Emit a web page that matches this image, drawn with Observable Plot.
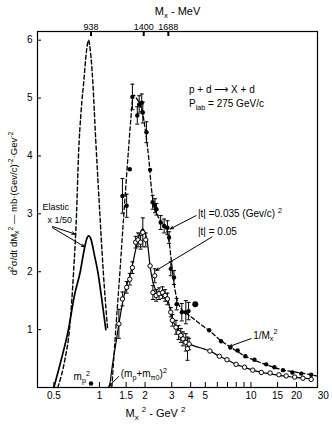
<!DOCTYPE html>
<html><head><meta charset="utf-8">
<script src="https://cdn.jsdelivr.net/npm/d3@7"></script>
<script src="https://cdn.jsdelivr.net/npm/@observablehq/plot@0.6"></script>
<style>
html,body{margin:0;padding:0;background:#fff;}
#chart svg{display:block;}
</style>
</head><body><div id="chart"></div>
<script>
// ---- tick labels ----
const xTickValues = [0.5, 1, 1.5, 2, 3, 4, 5, 6, 7, 8, 9, 10, 15, 20];
const xTickLabels = [0.5, 1, 1.5, 2, 3, 4, 5, 10, 15, 20, 30];
const yTickValues = [1, 2, 3, 4, 5, 6];
const topTickMeV = [938, 1400, 1688];

// ---- elastic peak (x 1/50) ----
const elastic035X = [0.531, 0.593, 0.634, 0.675, 0.706, 0.727, 0.758, 0.789, 0.820, 0.848, 0.872, 0.903, 0.944, 0.996, 1.060, 1.133];
const elastic035Y = [0.00, 0.50, 1.00, 2.00, 3.00, 4.00, 4.80, 5.30, 5.80, 6.00, 5.80, 5.30, 4.30, 3.20, 2.00, 1.00];
const elastic05X = [0.500, 0.562, 0.624, 0.685, 0.747, 0.789, 0.820, 0.848, 0.882, 0.924, 0.975, 1.039, 1.102];
const elastic05Y = [0.00, 0.50, 1.00, 1.60, 2.00, 2.35, 2.55, 2.62, 2.55, 2.30, 2.00, 1.50, 1.00];

// ---- guide curves through the inelastic data ----
const curve035X = [1.207, 1.281, 1.365, 1.449, 1.544, 1.607, 1.650, 1.692, 1.754, 1.839, 1.922, 2.021, 2.117, 2.201, 2.285, 2.410, 2.578, 2.767, 2.872, 2.978, 3.084, 3.231, 3.465, 3.791, 4.226, 4.769, 5.314, 6.41, 7.507, 9.162, 10.82, 13.05, 16.41, 19.78, 24.30, 27.0];
const curve035Y = [0.00, 1.00, 2.00, 3.00, 4.00, 4.60, 4.95, 5.05, 5.00, 4.90, 4.75, 4.40, 3.95, 3.45, 3.15, 2.98, 2.85, 2.72, 2.55, 2.20, 1.85, 1.55, 1.36, 1.27, 1.18, 1.07, 0.98, 0.80, 0.68, 0.54, 0.46, 0.38, 0.30, 0.265, 0.225, 0.20];
const curve05X = [1.165, 1.228, 1.291, 1.344, 1.418, 1.491, 1.607, 1.692, 1.777, 1.860, 1.933, 2.011, 2.075, 2.159, 2.285, 2.462, 2.662, 2.809, 2.925, 3.031, 3.241, 3.497, 3.897, 4.551, 5.358, 6.189, 6.957, 7.948, 9.053, 10.27, 11.71, 13.38, 15.29, 17.08, 19.44, 22.04, 24.98, 25.7];
const curve05Y = [0.00, 0.45, 0.80, 1.10, 1.45, 1.71, 1.98, 2.25, 2.50, 2.68, 2.74, 2.65, 2.50, 2.10, 1.76, 1.62, 1.58, 1.53, 1.36, 1.19, 1.02, 0.88, 0.76, 0.69, 0.63, 0.54, 0.48, 0.40, 0.35, 0.30, 0.26, 0.235, 0.21, 0.195, 0.175, 0.16, 0.145, 0.135];

// ---- |t| = 0.035 (filled points) ----
const pts035X = [1.418, 1.512, 1.586, 1.650, 1.777, 1.829, 1.902, 1.933, 2.042, 2.159, 2.243, 2.326, 2.379, 2.536, 2.672, 2.809, 2.882, 2.957, 3.105, 3.231, 3.497, 3.717, 3.876, 5.303, 6.35, 7.309, 8.168, 9.184, 10.55, 12.60, 14.28, 16.29, 18.77, 21.47, 24.98];
const pts035Y = [3.31, 3.14, 3.77, 5.02, 4.70, 4.89, 4.92, 4.75, 4.41, 3.76, 3.20, 3.14, 3.08, 2.85, 2.79, 2.76, 2.59, 2.05, 1.90, 1.44, 1.30, 1.30, 1.32, 0.99, 0.80, 0.69, 0.64, 0.54, 0.48, 0.40, 0.35, 0.30, 0.26, 0.24, 0.22];
const pts035Err = [0.30, 0.20, 0, 0.22, 0.15, 0.15, 0.15, 0.18, 0.18, 0, 0.12, 0.12, 0.10, 0.12, 0.12, 0.12, 0.10, 0.12, 0.12, 0.10, 0.15, 0.20, 0.15, 0, 0, 0, 0, 0, 0, 0, 0, 0, 0, 0, 0];
const isolatedX = [4.29];
const isolatedY = [1.44];

// ---- |t| = 0.05 (open points) ----
const pts05X = [1.344, 1.418, 1.512, 1.586, 1.650, 1.733, 1.798, 1.870, 1.933, 2.021, 2.159, 2.253, 2.316, 2.368, 2.473, 2.609, 2.714, 2.809, 2.957, 3.031, 3.199, 3.327, 3.444, 3.561, 3.717, 3.812, 3.908, 5.358, 6.189, 6.946, 7.980, 9.074, 10.28, 11.71, 13.38, 15.29, 17.08, 19.44, 22.04, 24.98];
const pts05Y = [1.10, 1.53, 1.73, 1.87, 2.07, 2.51, 2.55, 2.51, 2.68, 2.55, 2.10, 1.64, 1.93, 1.59, 1.62, 1.64, 1.59, 1.53, 1.30, 1.16, 1.04, 0.95, 0.90, 0.84, 0.78, 0.67, 0.75, 0.63, 0.54, 0.48, 0.40, 0.35, 0.30, 0.26, 0.25, 0.22, 0.20, 0.18, 0.16, 0.14];
const pts05Err = [0.25, 0.12, 0.10, 0.10, 0.10, 0.10, 0.12, 0.12, 0.25, 0.12, 0, 0.12, 0.12, 0.10, 0.10, 0.10, 0.10, 0.10, 0.08, 0.10, 0.12, 0.12, 0.12, 0.12, 0.15, 0.20, 0.10, 0, 0, 0, 0, 0, 0, 0, 0, 0, 0, 0, 0, 0];

// ---- marker and texts ----
const mpSquared = [0.880];
const titleTop = "M_{x} - MeV";
const titleBottom = "M_{x} ^{2} - GeV ^{2}";
const titleY = "d^{2}σ/dt dM_{x}^{2} — mb·(Gev/c)^{-2}·Gev^{-2}";
const labelTexts = ["Elastic", "x 1/50", "p + d ⟶ X + d", "P_{lab} = 275 GeV/c", "|t| =0.035 (Gev/c) ^{2}", "|t| = 0.05", "1/M_{x}^{2}", "m_{p}^{2}", "(m_{p}+m_{π0})^{2}"];
const labelX = [0.421, 0.454, 3.90, 3.90, 4.47, 4.47, 10.34, 0.675, 1.382];
const labelY = [3.11, 2.89, 5.14, 4.90, 3.00, 2.69, 0.90, 0.19, 0.24];
const arrowFromX = [0.490, 0.490, 4.35, 5.53, 10.03, 1.340];
const arrowFromY = [2.78, 2.76, 2.97, 2.60, 0.845, 0.19];
const arrowToX = [0.690, 0.798, 2.93, 2.36, 7.17, 1.151];
const arrowToY = [2.65, 2.43, 2.74, 2.02, 0.707, 0.02];

// ---- tables built from the arrays ----
const zip = (X, Y) => X.map((x, i) => ({x, y: Y[i]}));
const withErr = (X, Y, E) => X.map((x, i) => ({x, y: Y[i], e: E[i]}));
const f035 = withErr(pts035X, pts035Y, pts035Err);
const o05 = withErr(pts05X, pts05Y, pts05Err);
const bars035 = f035.filter(d => d.e > 0);
const bars05 = o05.filter(d => d.e > 0);
const labels = labelTexts.map((t, i) => ({t, x: labelX[i], y: labelY[i], fs: i < 2 ? 9 : 10}));
const arrows = arrowFromX.map((x1, i) => ({x1, y1: arrowFromY[i], x2: arrowToX[i], y2: arrowToY[i]}));

const cap = {draw(ctx, size) { const w = Math.sqrt(size / Math.PI); ctx.moveTo(-w, 0); ctx.lineTo(w, 0); }};
const dash = "4,2.6";

const chart = Plot.plot({
  width: 332, height: 426,
  marginLeft: 37, marginRight: 15, marginTop: 31, marginBottom: 39,
  style: {fontFamily: "'Liberation Sans', Arial, sans-serif", fontSize: "10px", background: "white", color: "black", overflow: "visible"},
  x: {type: "log", domain: [0.39, 27.5]},
  y: {domain: [0, 6.15]},
  marks: [
    Plot.frame({stroke: "black", strokeWidth: 1.2}),
    // bottom axis: inward ticks, labels
    Plot.axisX({ticks: xTickValues, tickSize: -5, fill: "none", label: null}),
    Plot.axisX({ticks: xTickLabels, tickSize: 0, tickPadding: 4, tickFormat: d => String(d), label: null, fontSize: 10}),
    // top axis in MeV (positions are M^2 in GeV^2)
    Plot.axisX({anchor: "top", ticks: topTickMeV.map(m => (m / 1000) ** 2), tickSize: -4, strokeWidth: 2, fill: "none", label: null}),
    Plot.text(topTickMeV, {x: m => (m / 1000) ** 2, frameAnchor: "top", dy: -8, text: m => String(m), fontSize: 9, letterSpacing: "-0.3px"}),
    // left axis
    Plot.axisY({ticks: yTickValues, tickSize: -4, fill: "none", label: null}),
    Plot.axisY({ticks: yTickValues, tickSize: 0, tickPadding: 5, tickFormat: d => String(d), label: null}),
    // titles
    Plot.text([titleTop], {frameAnchor: "top", dy: -24, fontSize: 11, text: d => d}),
    Plot.text([titleBottom], {frameAnchor: "bottom", dy: 29, dx: -22, fontSize: 11, text: d => d}),
    Plot.text([titleY], {frameAnchor: "left", textAnchor: "middle", rotate: -90, dx: -24, dy: -6, fontSize: 9.5, text: d => d}),
    // curves
    Plot.line(zip(elastic035X, elastic035Y), {x: "x", y: "y", stroke: "black", strokeWidth: 1.4, strokeDasharray: dash, curve: "monotone-x"}),
    Plot.line(zip(elastic05X, elastic05Y), {x: "x", y: "y", stroke: "black", strokeWidth: 1.7, curve: "monotone-x"}),
    Plot.line(zip(curve035X, curve035Y), {x: "x", y: "y", stroke: "black", strokeWidth: 1.3, strokeDasharray: dash, curve: "monotone-x"}),
    Plot.line(zip(curve05X, curve05Y), {x: "x", y: "y", stroke: "black", strokeWidth: 1.2, curve: "monotone-x"}),
    // error bars
    Plot.ruleX(bars035, {x: "x", y1: d => d.y - d.e, y2: d => d.y + d.e, stroke: "black", strokeWidth: 1}),
    Plot.dot(bars035, {x: "x", y: d => d.y + d.e, symbol: cap, r: 2, stroke: "black", fill: "none", strokeWidth: 1}),
    Plot.dot(bars035, {x: "x", y: d => d.y - d.e, symbol: cap, r: 2, stroke: "black", fill: "none", strokeWidth: 1}),
    Plot.ruleX(bars05, {x: "x", y1: d => d.y - d.e, y2: d => d.y + d.e, stroke: "black", strokeWidth: 1}),
    Plot.dot(bars05, {x: "x", y: d => d.y + d.e, symbol: cap, r: 2, stroke: "black", fill: "none", strokeWidth: 1}),
    Plot.dot(bars05, {x: "x", y: d => d.y - d.e, symbol: cap, r: 2, stroke: "black", fill: "none", strokeWidth: 1}),
    // points
    Plot.dot(f035, {x: "x", y: "y", r: 2.2, fill: "black", stroke: "none"}),
    Plot.dot(zip(isolatedX, isolatedY), {x: "x", y: "y", r: 3, fill: "black", stroke: "none"}),
    Plot.dot(o05, {x: "x", y: "y", r: 2.2, fill: "white", stroke: "black", strokeWidth: 1}),
    Plot.dot(mpSquared, {x: d => d, y: 0.07, r: 2.2, fill: "black", stroke: "none"}),
    // annotations
    Plot.arrow(arrows, {x1: "x1", y1: "y1", x2: "x2", y2: "y2", stroke: "black", strokeWidth: 1, headLength: 5, headAngle: 45}),
    Plot.text(labels.filter(d => d.fs === 9), {x: "x", y: "y", text: "t", textAnchor: "start", fontSize: 9}),
    Plot.text(labels.filter(d => d.fs === 10), {x: "x", y: "y", text: "t", textAnchor: "start", fontSize: 10})
  ]
});

document.getElementById("chart").appendChild(chart);

// render _{..} and ^{..} as sub/superscript tspans
(function richText(svg) {
  const NS = "http://www.w3.org/2000/svg";
  svg.querySelectorAll("text").forEach(t => {
    const s = t.textContent;
    if (!/[_^]\{/.test(s)) return;
    const fs = parseFloat(getComputedStyle(t).fontSize) || 10;
    t.textContent = "";
    let cur = 0;
    for (const p of s.split(/([_^]\{[^}]*\})/)) {
      if (!p) continue;
      let txt = p, target = 0, small = false;
      if (p.startsWith("_{")) { txt = p.slice(2, -1); target = 0.28 * fs; small = true; }
      else if (p.startsWith("^{")) { txt = p.slice(2, -1); target = -0.42 * fs; small = true; }
      const ts = document.createElementNS(NS, "tspan");
      const d = target - cur; cur = target;
      if (d) ts.setAttribute("dy", d.toFixed(2));
      if (small) ts.setAttribute("font-size", (0.72 * fs).toFixed(1));
      ts.textContent = txt;
      t.appendChild(ts);
    }
  });
})(chart);
</script>
</body></html>
